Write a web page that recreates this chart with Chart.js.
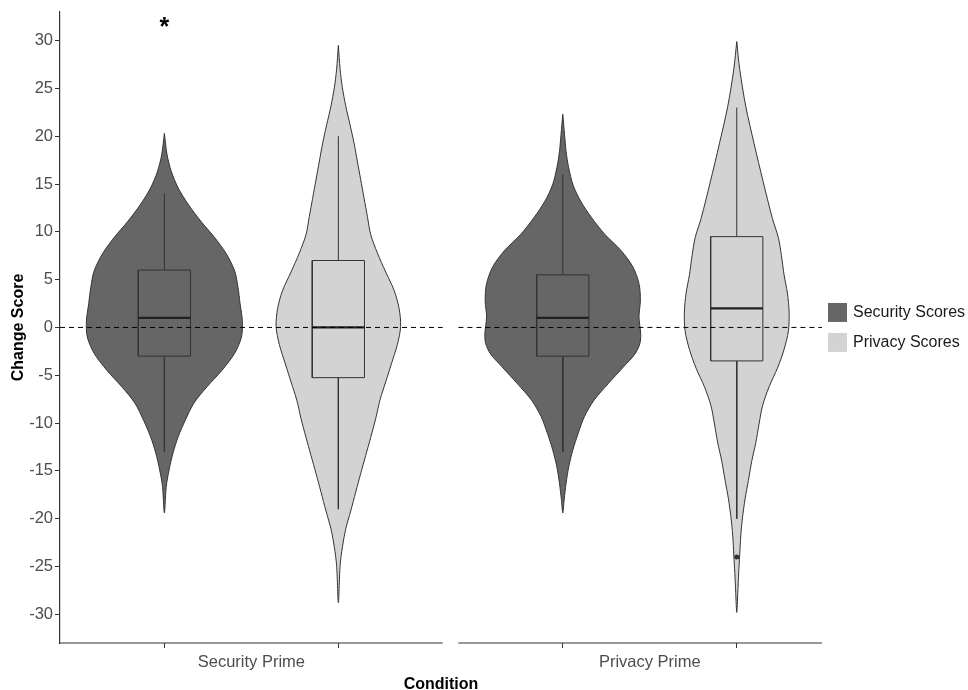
<!DOCTYPE html>
<html>
<head>
<meta charset="utf-8">
<script src="https://cdn.jsdelivr.net/npm/chart.js@4.4.1/dist/chart.umd.min.js"></script>
<style>
  html, body { margin: 0; padding: 0; background: #ffffff; }
  #wrap { width: 968px; height: 690px; }
</style>
</head>
<body>
<div id="wrap"><canvas id="violinChart" width="968" height="690"></canvas></div>
<script>
const conditions = ['Security Prime', 'Privacy Prime'];
const scoreTypes = ['Security Scores', 'Privacy Scores'];
const yTickValues = [-30, -25, -20, -15, -10, -5, 0, 5, 10, 15, 20, 25, 30];

// violin outlines: score levels and half widths (in category units)
const secPrimeSecLevels = [20.3, 18.1, 16.3, 14.6, 12.9, 11.1, 9.4, 7.7, 5.9, 4.2, 2.5, 0.7, -1.0, -2.7, -4.5, -6.2, -7.9, -9.7, -11.4, -13.1, -14.9, -16.6, -19.4];
const secPrimeSecWidths = [0, 0.015, 0.040, 0.079, 0.136, 0.210, 0.289, 0.356, 0.404, 0.423, 0.435, 0.448, 0.443, 0.404, 0.330, 0.245, 0.170, 0.120, 0.080, 0.050, 0.027, 0.011, 0];

const secPrimePrivLevels = [29.5, 27.0, 25.1, 23.2, 21.2, 19.3, 17.4, 15.5, 13.5, 11.6, 9.7, 7.8, 5.8, 3.9, 2.0, 0.1, -1.8, -3.8, -5.7, -7.6, -9.5, -11.5, -13.4, -15.3, -17.2, -19.2, -21.1, -23.0, -24.9, -28.8];
const secPrimePrivWidths = [0, 0.010, 0.023, 0.042, 0.067, 0.090, 0.109, 0.128, 0.148, 0.167, 0.186, 0.224, 0.272, 0.320, 0.349, 0.358, 0.339, 0.305, 0.272, 0.239, 0.215, 0.186, 0.157, 0.128, 0.100, 0.071, 0.042, 0.023, 0.010, 0];

const privPrimeSecLevels = [22.3, 20.2, 18.4, 16.7, 14.9, 13.2, 11.5, 9.75, 8.0, 6.3, 4.5, 2.8, 1.1, -0.7, -1.7, -2.8, -4.1, -5.9, -7.6, -9.3, -11.1, -12.8, -14.5, -16.3, -18.0, -19.4];
const privPrimeSecWidths = [0, 0.010, 0.019, 0.034, 0.059, 0.103, 0.165, 0.241, 0.337, 0.404, 0.439, 0.446, 0.438, 0.448, 0.443, 0.414, 0.350, 0.260, 0.180, 0.125, 0.088, 0.058, 0.035, 0.019, 0.008, 0];

const privPrimePrivLevels = [29.9, 27.0, 23.1, 19.2, 15.3, 11.4, 9.4, 7.5, 5.5, 3.6, 1.6, -0.35, -2.3, -4.25, -6.2, -8.2, -10.1, -12.1, -14.0, -16.0, -17.9, -19.9, -21.8, -23.8, -25.7, -27.7, -29.8];
const privPrimePrivWidths = [0, 0.017, 0.052, 0.100, 0.151, 0.205, 0.239, 0.257, 0.272, 0.291, 0.301, 0.297, 0.272, 0.234, 0.186, 0.148, 0.128, 0.109, 0.086, 0.067, 0.048, 0.033, 0.023, 0.017, 0.011, 0.006, 0];

// boxplot stats, same order as the violins
const boxLow    = [-13, -19, -13, -20];
const boxQ1     = [-3, -5.25, -3, -3.5];
const boxMedian = [1, 0, 1, 2];
const boxQ3     = [6, 7, 5.5, 9.5];
const boxHigh   = [14, 20, 16, 23];
const outliers  = [[], [], [], [-24]];

const referenceY = 0;
const asteriskY = 31.3; // marker above Security Scores in Security Prime

// layout
const panelShift = 2.29;
const boxHalf = 0.15;
const fills = ['#666666', '#d3d3d3'];
const lineCol = '#333333';
const panels = conditions.map((c, p) => [0.4 + p * panelShift, 2.6 + p * panelShift]);
panels[1][1] = 4.78;

const violinLevels = [secPrimeSecLevels, secPrimePrivLevels, privPrimeSecLevels, privPrimePrivLevels];
const violinWidths = [secPrimeSecWidths, secPrimePrivWidths, privPrimeSecWidths, privPrimePrivWidths];

const centers = [];
conditions.forEach((c, p) => {
  scoreTypes.forEach((s, k) => centers.push(1 + k + p * panelShift));
});

function outline(cx, levels, widths) {
  const pts = [];
  for (let i = 0; i < levels.length; i++) pts.push({x: cx - widths[i], y: levels[i]});
  for (let i = levels.length - 2; i >= 0; i--) pts.push({x: cx + widths[i], y: levels[i]});
  return pts;
}

const datasets = [];
centers.forEach((cx, i) => {
  const fill = fills[i % 2];
  datasets.push({
    data: outline(cx, violinLevels[i], violinWidths[i]),
    showLine: true, fill: 'shape', backgroundColor: fill,
    borderColor: lineCol, borderWidth: 1, pointRadius: 0, tension: 0.3, order: 10
  });
  datasets.push({
    data: [{x: cx, y: boxQ3[i]}, {x: cx, y: boxHigh[i]}, {x: cx, y: null}, {x: cx, y: boxQ1[i]}, {x: cx, y: boxLow[i]}],
    showLine: true, spanGaps: false, borderColor: lineCol, borderWidth: 1, pointRadius: 0, order: 9
  });
  datasets.push({
    data: [{x: cx - boxHalf, y: boxQ1[i]}, {x: cx + boxHalf, y: boxQ1[i]}, {x: cx + boxHalf, y: boxQ3[i]},
           {x: cx - boxHalf, y: boxQ3[i]}, {x: cx - boxHalf, y: boxQ1[i]}],
    showLine: true, fill: 'shape', backgroundColor: fill,
    borderColor: lineCol, borderWidth: 1, pointRadius: 0, order: 8
  });
  datasets.push({
    data: [{x: cx - boxHalf, y: boxMedian[i]}, {x: cx + boxHalf, y: boxMedian[i]}],
    showLine: true, borderColor: '#222222', borderWidth: 2.2, pointRadius: 0, order: 7
  });
  if (outliers[i].length) {
    datasets.push({
      data: outliers[i].map(v => ({x: cx, y: v})),
      showLine: false, pointRadius: 2.5, pointBackgroundColor: lineCol, pointBorderWidth: 0, order: 6
    });
  }
});
panels.forEach(([a, b]) => {
  datasets.push({
    data: [{x: a, y: referenceY}, {x: b, y: referenceY}],
    showLine: true, borderColor: '#000000', borderWidth: 1, borderDash: [5, 4], pointRadius: 0, order: 1
  });
});

const labelAt = conditions.map((c, p) => 1.5 + p * panelShift);
const isLabelTick = v => labelAt.some(l => Math.abs(l - v) < 1e-6);

const panelDecor = {
  id: 'panelDecor',
  afterDraw(chart) {
    const {ctx, chartArea: area, scales: {x, y}} = chart;
    ctx.save();
    // x axis line, one per panel
    ctx.strokeStyle = lineCol;
    ctx.lineWidth = 1.2;
    panels.forEach(([a, b]) => {
      ctx.beginPath();
      ctx.moveTo(x.getPixelForValue(a) - (a === panels[0][0] ? 0.6 : 0), area.bottom);
      ctx.lineTo(x.getPixelForValue(b), area.bottom);
      ctx.stroke();
    });
    // significance marker
    ctx.fillStyle = '#000000';
    ctx.font = 'bold 25px "Liberation Sans", Arial, sans-serif';
    ctx.textAlign = 'center';
    ctx.textBaseline = 'middle';
    ctx.fillText('*', x.getPixelForValue(centers[0]), y.getPixelForValue(asteriskY));
    // legend
    const lx = area.right + 6;
    const midY = (area.top + area.bottom) / 2;
    ctx.font = '16px "Liberation Sans", Arial, sans-serif';
    ctx.textAlign = 'left';
    scoreTypes.forEach((s, k) => {
      const cy = midY - 15 + k * 30;
      ctx.fillStyle = fills[k];
      ctx.fillRect(lx, cy - 9.5, 19, 19);
      ctx.fillStyle = '#1a1a1a';
      ctx.fillText(s, lx + 25, cy);
    });
    ctx.restore();
  }
};

new Chart(document.getElementById('violinChart'), {
  type: 'scatter',
  data: { datasets },
  plugins: [panelDecor],
  options: {
    responsive: false,
    animation: false,
    devicePixelRatio: 1,
    layout: { padding: { top: 10, right: 146, bottom: 0, left: 0 } },
    plugins: { legend: { display: false }, tooltip: { enabled: false } },
    scales: {
      x: {
        type: 'linear',
        min: 0.4,
        max: 4.78,
        afterFit(scale) { scale.height = 47; },
        afterBuildTicks(scale) {
          const vals = [];
          conditions.forEach((c, p) => {
            vals.push(centers[p * 2], labelAt[p], centers[p * 2 + 1]);
          });
          scale.ticks = vals.map(v => ({ value: v }));
        },
        border: { display: false },
        grid: {
          drawOnChartArea: false,
          tickLength: 5,
          tickWidth: 1,
          tickColor: ctx => (ctx.tick && isLabelTick(ctx.tick.value)) ? 'rgba(0,0,0,0)' : lineCol
        },
        ticks: {
          autoSkip: false,
          maxRotation: 0,
          padding: 5,
          color: '#4d4d4d',
          font: { size: 16.5, family: '"Liberation Sans", Arial, sans-serif' },
          callback: v => {
            const p = labelAt.findIndex(l => Math.abs(l - v) < 1e-6);
            return p >= 0 ? conditions[p] : '';
          }
        },
        title: {
          display: true,
          text: 'Condition',
          color: '#000000',
          padding: { top: 0, bottom: -3 },
          font: { size: 16, weight: 'bold', lineHeight: 1, family: '"Liberation Sans", Arial, sans-serif' }
        }
      },
      y: {
        min: -33,
        max: 33,
        afterFit(scale) { scale.width = 60; },
        afterBuildTicks(scale) { scale.ticks = yTickValues.map(v => ({ value: v })); },
        border: { display: true, color: lineCol, width: 1.2 },
        grid: { drawOnChartArea: false, tickLength: 5, tickColor: lineCol },
        ticks: {
          padding: 2,
          color: '#4d4d4d',
          font: { size: 16.5, family: '"Liberation Sans", Arial, sans-serif' }
        },
        title: {
          display: true,
          text: 'Change Score',
          color: '#000000',
          padding: { top: 11, bottom: 0 },
          font: { size: 16, weight: 'bold', lineHeight: 1, family: '"Liberation Sans", Arial, sans-serif' }
        }
      }
    }
  }
});
</script>
</body>
</html>
